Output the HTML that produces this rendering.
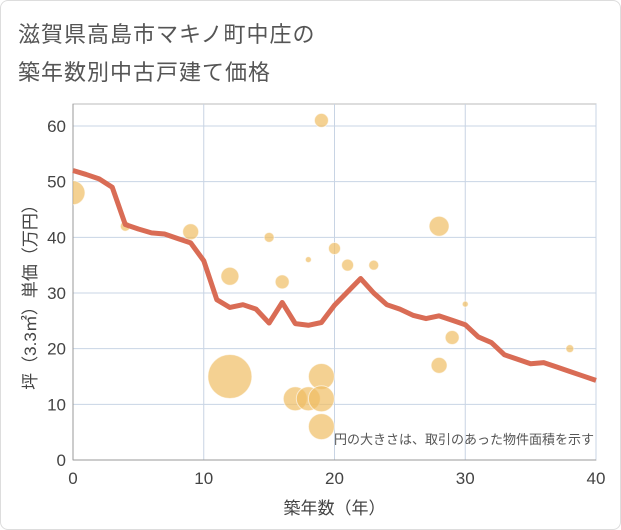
<!DOCTYPE html>
<html><head><meta charset="utf-8"><style>
body{margin:0;background:#fff;font-family:"Liberation Sans","Noto Sans CJK JP",sans-serif;}
#wrap{position:relative;width:619px;height:528px;border:1px solid #ddd;border-radius:8px;overflow:hidden;background:#fff}
.t{position:absolute;left:17px;font-size:22px;color:#555;letter-spacing:1px}
</style></head><body>
<div id="wrap">
<div class="t" style="top:16px">滋賀県高島市マキノ町中庄の</div>
<div class="t" style="top:54px">築年数別中古戸建て価格</div>
<svg id="c" width="621" height="530" style="position:absolute;left:-1px;top:-1px"><defs><clipPath id="pc"><rect x="73" y="104" width="523" height="356"/></clipPath></defs></svg>
</div>
<script>
const xTicks=[0,10,20,30,40];
const yTicks=[0,10,20,30,40,50,60];
const lineYears=[0,1,2,3,4,5,6,7,8,9,10,11,12,13,14,15,16,17,18,19,20,21,22,23,24,25,26,27,28,29,30,31,32,33,34,35,36,37,38,39,40];
const lineValues=[52,51.3,50.5,49,42.3,41.5,40.8,40.6,39.8,39,35.8,28.8,27.4,27.9,27.1,24.6,28.3,24.5,24.2,24.7,27.8,30.2,32.6,30,27.9,27.1,26,25.4,25.9,25.1,24.3,22.1,21.1,18.9,18.1,17.3,17.5,16.7,15.9,15.1,14.3];
const bubX=[0,4,9,12,12,15,16,17,18,18,19,19,19,19,20,21,23,28,28,29,30,38];
const bubY=[48,42,41,33,15,40,32,11,11,36,61,15,11,6,38,35,35,42,17,22,28,20];
const bubR=[12,5,8,9,22,5,7,12,12,3,7,13,13,13,6,6,5,10,8,7,3,4];
const X0=73,X1=596,Y0=460,Y1=126;
const sx=v=>X0+v/40*(X1-X0);
const yS=v=>Y0-v/60*(Y0-Y1);
const svg=document.getElementById('c');const NS='http://www.w3.org/2000/svg';
function mk(t,a,par){const e=document.createElementNS(NS,t);for(const k in a)e.setAttribute(k,a[k]);(par||svg).appendChild(e);return e;}
let e=mk('rect',{x:X0,y:104,width:X1-X0,height:Y0-104,fill:'none',stroke:'#bbb'});


xTicks.forEach(v=>{let g=mk('line',{x1:sx(v),x2:sx(v),y1:104,y2:Y0,stroke:'#c8d4e4'});


let t=mk('text',{x:sx(v),y:484,'text-anchor':'middle','font-size':17,fill:'#444'});t.textContent=v;

});
yTicks.forEach(v=>{let g=mk('line',{x1:X0,x2:X1,y1:yS(v),y2:yS(v),stroke:'#c8d4e4'});


let t=mk('text',{x:66,y:yS(v)+6,'text-anchor':'end','font-size':17,fill:'#444'});t.textContent=v;

});
mk('line',{x1:X0,x2:X1,y1:Y0,y2:Y0,stroke:'#999'});
mk('line',{x1:X0,x2:X0,y1:104,y2:Y0,stroke:'#999'});
const gb=mk('g',{'clip-path':'url(#pc)'});


bubX.forEach((v,i)=>{let c=mk('circle',{cx:sx(v),cy:yS(bubY[i]),r:bubR[i],fill:'rgba(240,190,100,0.7)',stroke:'rgba(255,255,255,0.6)'},gb);

});
let p=mk('polyline',{points:lineYears.map((v,i)=>sx(v)+','+yS(lineValues[i])).join(' '),fill:'none',stroke:'#d96c55','stroke-width':5,'stroke-linejoin':'round'});


let n=mk('text',{x:594,y:444,'text-anchor':'end','font-size':13,fill:'#555'});n.textContent='円の大きさは、取引のあった物件面積を示す';


let xt=mk('text',{x:sx(20),y:514,'text-anchor':'middle','font-size':17,fill:'#444'});xt.textContent='築年数（年）';


let yt=mk('text',{x:0,y:0,'text-anchor':'middle','font-size':17,fill:'#444',transform:'translate(36,293) rotate(-90)'});yt.textContent='坪（3.3㎡）単価（万円）';


</script>
</body></html>
